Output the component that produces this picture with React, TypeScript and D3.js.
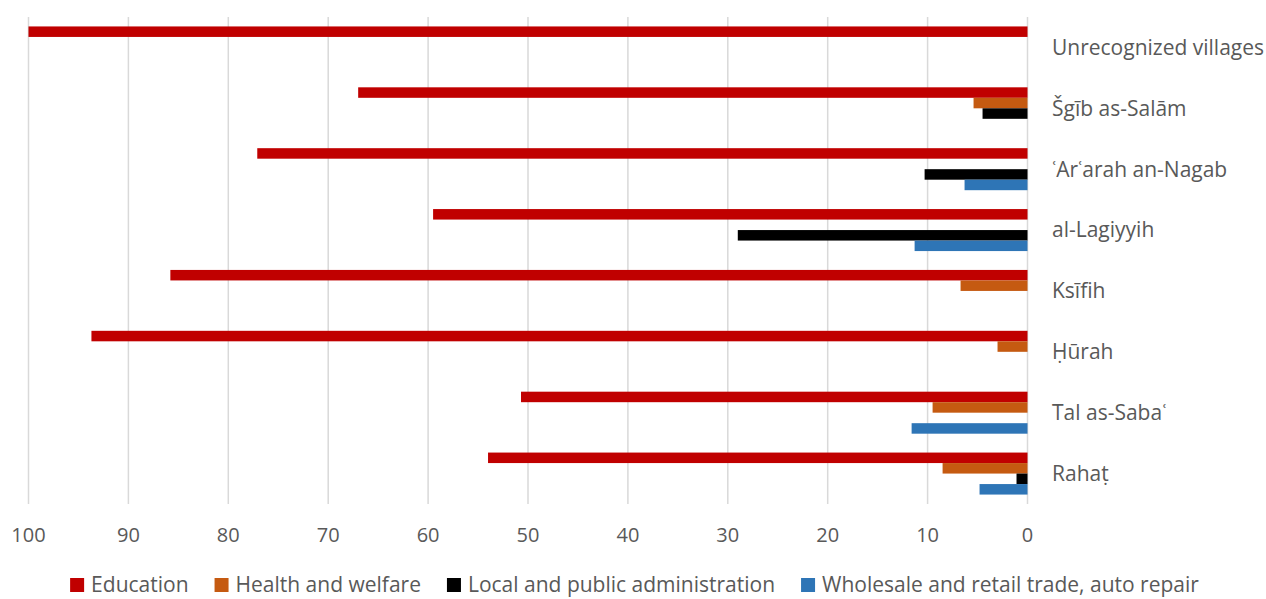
import React, { useEffect, useRef } from "react";
import * as d3 from "d3";

const categories = [
  "Unrecognized villages",
  "Šgīb as-Salām",
  "ʿArʿarah an-Nagab",
  "al-Lagiyyih",
  "Ksīfih",
  "Ḥūrah",
  "Tal as-Sabaʿ",
  "Rahaṭ",
];

const seriesNames = [
  "Education",
  "Health and welfare",
  "Local and public administration",
  "Wholesale and retail trade, auto repair",
];

const education = [100, 67.0, 77.1, 59.5, 85.8, 93.7, 50.7, 54.0];
const health = [0, 5.4, 0, 0, 6.7, 3.0, 9.5, 8.5];
const localAdmin = [0, 4.5, 10.3, 29.0, 0, 0, 0, 1.1];
const wholesale = [0, 0, 6.3, 11.3, 0, 0, 11.6, 4.8];

const tickValues = [100, 90, 80, 70, 60, 50, 40, 30, 20, 10, 0];

const colors = ["#C00000", "#C55A11", "#000000", "#2E75B6"];

const W = 1266;
const H = 599;
const FONT = "'Open Sans', Lato, sans-serif";

export default function App() {
  const ref = useRef<SVGSVGElement>(null);

  useEffect(() => {
    const svg = d3.select(ref.current);
    svg.selectAll("*").remove();

    const values = [education, health, localAdmin, wholesale];

    const x = d3.scaleLinear().domain([0, 100]).range([1027.5, 28.5]);
    const y = d3
      .scaleBand<string>()
      .domain(categories)
      .range([17, 504])
      .paddingInner(0.31)
      .paddingOuter(0.155);
    const ySub = d3
      .scaleBand<string>()
      .domain(seriesNames)
      .range([0, y.bandwidth()]);

    // gridlines
    svg
      .append("g")
      .selectAll("line")
      .data(tickValues)
      .join("line")
      .attr("x1", (d) => x(d))
      .attr("x2", (d) => x(d))
      .attr("y1", 17)
      .attr("y2", 504)
      .attr("stroke", "#D9D9D9")
      .attr("stroke-width", 1.5);

    // bars
    seriesNames.forEach((s, si) => {
      svg
        .append("g")
        .selectAll("rect")
        .data(categories.map((c, i) => ({ c, v: values[si][i] })).filter((d) => d.v > 0))
        .join("rect")
        .attr("x", (d) => x(d.v))
        .attr("width", (d) => x(0) - x(d.v))
        .attr("y", (d) => (y(d.c) as number) + (ySub(s) as number))
        .attr("height", ySub.bandwidth())
        .attr("fill", colors[si]);
    });

    // category labels
    svg
      .append("g")
      .selectAll("text")
      .data(categories)
      .join("text")
      .attr("x", 1052)
      .attr("y", (d) => (y(d) as number) + y.bandwidth() / 2)
      .attr("dy", "0.35em")
      .attr("font-family", FONT)
      .attr("font-size", 21)
      .attr("fill", "#595959")
      .text((d) => d);

    // tick labels
    svg
      .append("g")
      .selectAll("text")
      .data(tickValues)
      .join("text")
      .attr("x", (d) => x(d))
      .attr("y", 535)
      .attr("dy", "0.35em")
      .attr("text-anchor", "middle")
      .attr("font-family", FONT)
      .attr("font-size", 20)
      .attr("fill", "#595959")
      .text((d) => String(d));

    // legend
    const lg = svg.append("g");
    const items = seriesNames.map((s, i) => {
      const g = lg.append("g");
      g.append("rect")
        .attr("x", 0)
        .attr("y", -7)
        .attr("width", 14)
        .attr("height", 14)
        .attr("fill", colors[i]);
      const t = g
        .append("text")
        .attr("x", 21)
        .attr("y", 0)
        .attr("dy", "0.35em")
        .attr("font-family", FONT)
        .attr("font-size", 21)
        .attr("fill", "#595959")
        .text(s);
      const w = 21 + (t.node() as SVGTextElement).getComputedTextLength();
      return { g, w };
    });
    const gap = 26;
    const total = d3.sum(items, (d) => d.w) + gap * (items.length - 1);
    let cx = 634.5 - total / 2;
    items.forEach((it) => {
      it.g.attr("transform", `translate(${cx},585)`);
      cx += it.w + gap;
    });
  }, []);

  return (
    <svg
      ref={ref}
      width={W}
      height={H}
      style={{ position: "absolute", left: 0, top: 0, background: "#fff" }}
    />
  );
}
